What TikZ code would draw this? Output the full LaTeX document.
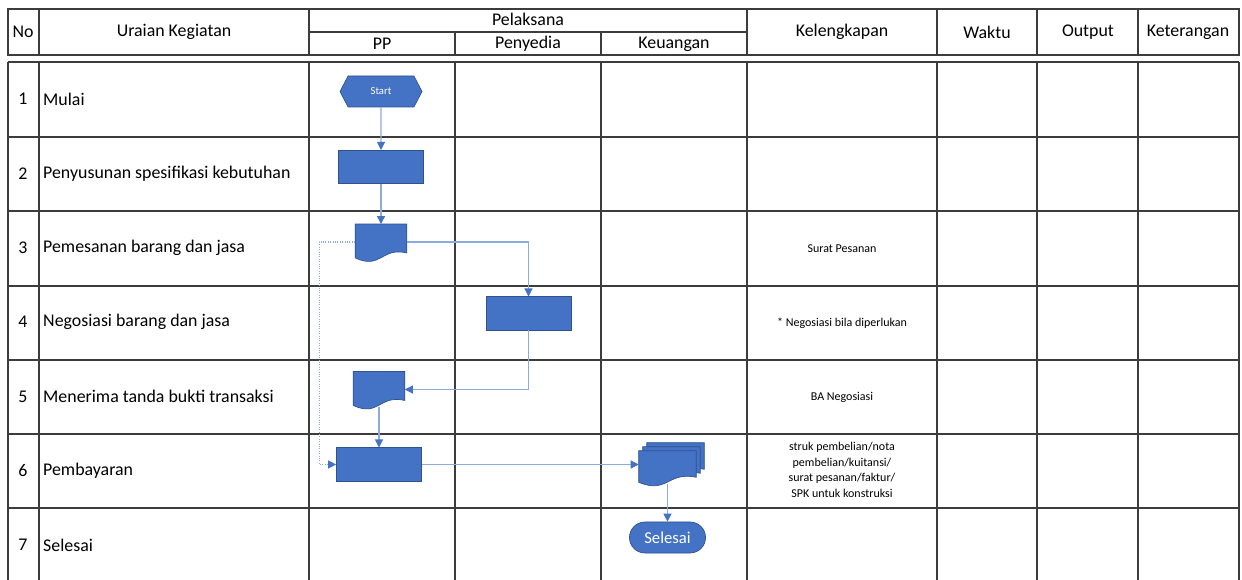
\documentclass[tikz,border=0pt]{standalone}
\usepackage{fontspec}
\setmainfont{Carlito}
\usetikzlibrary{arrows.meta,calc,shapes.symbols,shapes.misc}

\definecolor{flowfill}{RGB}{68,114,196}
\definecolor{flowedge}{RGB}{47,82,143}
\definecolor{flowline}{RGB}{143,170,220}
\definecolor{gridline}{RGB}{60,60,60}

\tikzset{
  grid/.style={draw=gridline, line width=1pt},
  box/.style={draw=flowedge, fill=flowfill, line width=0.5pt, inner sep=0pt,
    minimum width=63.75pt, minimum height=25pt},
  docbox/.style={inner sep=0pt, minimum width=38.25pt, minimum height=26.5pt},
  docfill/.style={draw=flowedge, fill=flowfill, line width=0.5pt},
  flow/.style={draw=flowline, line width=0.8pt, ->},
  dotflow/.style={flow, densely dotted},
  head/.style={font=\fontsize{13.4}{16}\selectfont},
  small/.style={font=\fontsize{9}{11.6}\selectfont, align=center}
}

% document symbol drawn round a named node, #2 shifts it
\newcommand\docshape[2]{%
  \filldraw[docfill] ($(#1.north west)+(#2)$) -- ($(#1.north east)+(#2)$)
    -- ($(#1.south east)+(0,-7)+(#2)$)
    .. controls ($(#1.south)+(0,-13)+(#2)$) and ($(#1.south)+(0,10)+(#2)$)
    .. ($(#1.south west)+(0,-2)+(#2)$) -- cycle;}

\begin{document}
\begin{tikzpicture}[x=0.75pt, y=-0.75pt,
  >={Triangle[length=6pt,width=6pt,color=flowfill]}]
\clip (0,0) rectangle (1242,580);
\fill[white] (0,0) rectangle (1242,580);

% header of the table
\draw[grid] (8,9) rectangle (1239,55);
\foreach \x in {39,309,747,937,1037,1138}
  \draw[grid] (\x,9) -- (\x,55);
\draw[grid] (309,32) -- (747,32);
\foreach \x in {455,601}
  \draw[grid] (\x,32) -- (\x,55);

\foreach \x/\name/\txt in {
  23/hno/No,
  174/hur/Uraian Kegiatan,
  842/hkl/Kelengkapan,
  987/hwk/Waktu,
  1088/hout/Output,
  1188/hket/Keterangan}
  \node[head] (\name) at (\x,32) {\txt};
\node[head] (hpel) at (528,19.5) {Pelaksana};
\foreach \x/\name/\txt in {382/hpp/PP, 528/hpen/Penyedia, 674/hkeu/Keuangan}
  \node[head] (\name) at (\x,44) {\txt};

% body of the table
\draw[grid] (8,62) -- (1239,62);
\foreach \y in {137,211,286,360,434,508}
  \draw[grid] (8,\y) -- (1239,\y);
\foreach \x in {8,39,309,455,601,747,937,1037,1138,1239}
  \draw[grid] (\x,62) -- (\x,590);

% the activities
\foreach \n/\txt in {
  1/Mulai,
  2/Penyusunan spesifikasi kebutuhan,
  3/Pemesanan barang dan jasa,
  4/Negosiasi barang dan jasa,
  5/Menerima tanda bukti transaksi,
  6/Pembayaran,
  7/Selesai} {
  \node[head] (no\n) at (23,{62+74.3*(\n-0.5)}) {\n};
  \node[head, anchor=west] (ur\n) at (38.5,{62+74.3*(\n-0.5)}) {\txt};
}

% what is needed
\node[small] (kl3) at (842,249) {Surat Pesanan};
\node[small] (kl4) at (842,323) {* Negosiasi bila diperlukan};
\node[small] (kl5) at (842,397) {BA Negosiasi};
\node[small] (kl6) at (842,470) {struk pembelian/nota\\pembelian/kuitansi/\\surat pesanan/faktur/\\SPK untuk konstruksi};

% the flow
\node[signal, signal to=east and west, signal pointer angle=125,
  fill=flowfill, draw=flowedge, line width=0.5pt, inner sep=0pt,
  minimum width=61.5pt, minimum height=23.25pt, text=white,
  font=\fontsize{8}{10}\selectfont] (st) at (381,91.5) {Start};
\node[box] (b2) at (381,167) {};
\node[docbox] (d3) at (381,242) {};
\docshape{d3}{0,0}
\node[box] (b4) at (528.5,313.5) {};
\node[docbox] (d5) at (379,389.5) {};
\docshape{d5}{0,0}
\node[box] (b6) at (379,464.5) {};
\node[docbox, minimum width=42.75pt, minimum height=24.75pt] (d6) at (667.5,467.5) {};
\docshape{d6}{8,-8}
\docshape{d6}{4,-4}
\docshape{d6}{0,0}
\node[rounded rectangle, fill=flowfill, draw=flowedge, line width=0.5pt,
  minimum width=63.75pt, minimum height=23.25pt, text=white,
  font=\fontsize{12.5}{15}\selectfont] (se) at (667.5,537.5) {Selesai};

\draw[flow] (st) -- (b2);
\draw[flow] (b2) -- (d3);
\draw[flow] (d3.east) -| (b4.north);
\draw[flow] (b4.south) |- (d5.east);
\draw[flow] (d5.south) -- (b6.north);
\draw[dotflow] (d3.west) -- ++(-36,0) |- (b6.west);
\draw[flow] (b6.east) -- (b6.east -| d6.west);
\draw[flow] (d6.south) -- (se.north);
\end{tikzpicture}
\end{document}
